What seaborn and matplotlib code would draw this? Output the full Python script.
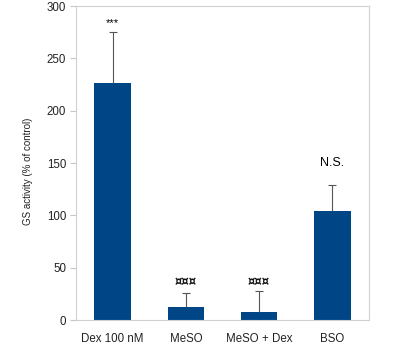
import matplotlib
matplotlib.use("Agg")
import matplotlib.pyplot as plt
import seaborn as sns
import pandas as pd
import numpy as np
from matplotlib.ticker import FixedLocator

categories = ["Dex 100 nM", "MeSO", "MeSO + Dex", "BSO"]
values = [226, 12, 8, 104]
errors = [49, 14, 20, 25]
annotations = ["***", "¤¤¤", "¤¤¤", "N.S."]
annot_y = [284, 37, 37, 150]
yticks = [0, 50, 100, 150, 200, 250, 300]

sns.set_style("white")
plt.rcParams['font.family'] = ['Liberation Sans', 'DejaVu Sans']

fig = plt.figure(figsize=(4.02, 3.54), dpi=100)
ax = fig.add_axes([0.189, 0.096, 0.729, 0.887])

df = pd.DataFrame({"cat": categories, "val": values})
sns.barplot(data=df, x="cat", y="val", color="#004586", saturation=1,
            width=0.5, ax=ax, errorbar=None, linewidth=0)

x = np.arange(len(categories))
v = np.array(values)
e = np.array(errors)
ax.vlines(x, v, v + e, color="#555555", linewidth=0.8, zorder=1)
ax.hlines(v + e, x - 0.055, x + 0.055, color="#555555", linewidth=0.8, zorder=1)

for i, (t, y) in enumerate(zip(annotations, annot_y)):
    if t == "***":
        ax.text(i, y, t, ha="center", va="center", fontsize=8, color="black")
    elif t == "N.S.":
        ax.text(i, y, t, ha="center", va="center", fontsize=9, color="black")
    else:
        ax.text(i, y, t, ha="center", va="center", fontsize=8.5, fontweight="bold",
                color="#111111", family=["DejaVu Sans"])

ax.set_ylim(0, 300)
ax.set_xlim(-0.5, 3.5)
ax.set_yticks(yticks)
ax.set_xlabel("")
ax.set_ylabel("GS activity (% of control)", fontsize=7, color="#222222")
ax.yaxis.set_label_coords(-0.147, 0.475)
ax.xaxis.set_minor_locator(FixedLocator([0.5, 1.5, 2.5, 3.5]))
ax.tick_params(axis="x", which="major", length=0, labelsize=8.3, colors="#222222", pad=9)
ax.tick_params(axis="x", which="minor", length=4, color="#c8c8c8", width=0.8)
ax.tick_params(axis="y", which="major", length=4, color="#c8c8c8", width=0.8,
               labelsize=8.3, labelcolor="#222222", left=True, pad=3)
for s in ax.spines.values():
    s.set_color("#d0d0d0")
    s.set_linewidth(0.8)

fig.savefig("out.png", dpi=100)
